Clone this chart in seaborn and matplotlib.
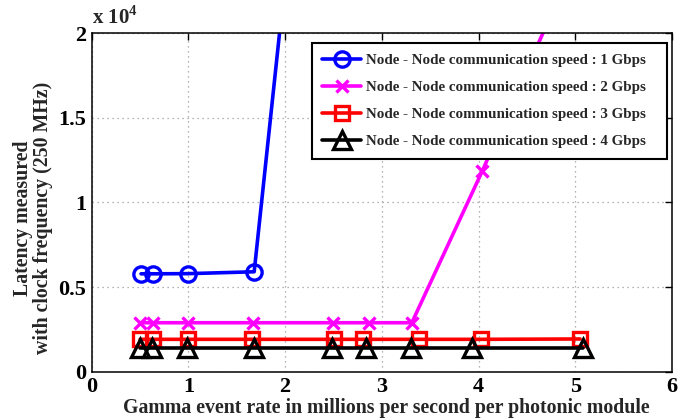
import matplotlib
matplotlib.use("Agg")
import matplotlib.pyplot as plt
from matplotlib.ticker import FuncFormatter
import seaborn as sns
import pandas as pd

# Gamma event rate (millions / s / photonic module) and latency (clock cycles @ 250 MHz)
rate_1g = [0.51, 0.63, 1.0, 1.68, 2.5]
lat_1g = [5780, 5780, 5790, 5900, 50000]

rate_2g = [0.50, 0.63, 1.0, 1.67, 2.50, 2.87, 3.31, 4.04, 5.05]
lat_2g = [2890, 2890, 2890, 2890, 2890, 2890, 2890, 11870, 25000]

rate_3g = [0.50, 0.63, 1.0, 1.66, 2.51, 2.80, 3.38, 4.02, 5.05]
lat_3g = [1910, 1910, 1910, 1910, 1910, 1910, 1910, 1910, 1930]

rate_4g = [0.50, 0.62, 0.99, 1.68, 2.48, 2.84, 3.30, 3.93, 5.08]
lat_4g = [1420, 1420, 1420, 1420, 1420, 1420, 1420, 1420, 1420]

labels = [
    "Node - Node communication speed : 1 Gbps",
    "Node - Node communication speed : 2 Gbps",
    "Node - Node communication speed : 3 Gbps",
    "Node - Node communication speed : 4 Gbps",
]
colors = ["#0000ff", "#ff00ff", "#ff0000", "#000000"]
markers = ["o", "x", "s", "^"]
marker_sizes = [11, 9, 10, 13]

x_ticks = [0, 1, 2, 3, 4, 5, 6]
y_ticks = [0, 5000, 10000, 15000, 20000]

sns.set_style("white")
plt.rcParams["font.family"] = ["Liberation Serif", "DejaVu Serif"]
plt.rcParams["font.weight"] = "bold"
plt.rcParams["mathtext.fontset"] = "custom"
plt.rcParams["mathtext.rm"] = "Liberation Serif:bold"

fig = plt.figure(figsize=(7.0, 4.19), dpi=100)
ax = fig.add_axes([0.131, 0.113, 0.829, 0.808])

series = [(rate_1g, lat_1g), (rate_2g, lat_2g), (rate_3g, lat_3g), (rate_4g, lat_4g)]
for (xs, ys), lab, col, mk, ms in zip(series, labels, colors, markers, marker_sizes):
    df = pd.DataFrame({"rate": xs, "latency": ys})
    sns.lineplot(
        data=df, x="rate", y="latency", ax=ax, color=col, label=lab,
        marker=mk, markersize=ms, markerfacecolor="none", markeredgecolor=col,
        markeredgewidth=2.4, linewidth=2.6, sort=False, estimator=None,
    )

ax.set_xlim(0, 6)
ax.set_ylim(0, 20000)
ax.set_xticks(x_ticks)
ax.set_yticks(y_ticks)
ax.yaxis.set_major_formatter(FuncFormatter(lambda v, p: f"{v / 1e4:g}"))

ax.grid(True, color="#9a9a9a", linestyle=(0, (1, 3)), linewidth=0.9)
ax.tick_params(direction="in", length=5, width=1, top=True, right=True,
               labelsize=16, pad=4, colors="black")
for s in ax.spines.values():
    s.set_visible(True)
    s.set_color("black")
    s.set_linewidth(1.1)

ax.set_xlabel("Gamma event rate in millions per second per photonic module",
              fontsize=14.3, fontweight="bold", labelpad=1)
ax.set_ylabel("Latency measured\nwith clock frequency (250 MHz)",
              fontsize=14.3, fontweight="bold", linespacing=1.0)
ax.xaxis.set_label_coords(0.508, -0.078, transform=ax.transAxes)
ax.xaxis.label.set_va("top")
ax.yaxis.set_label_coords(-0.067, 0.454, transform=ax.transAxes)

ax.text(0.0, 1.012, r"x 10$^{4}$", transform=ax.transAxes, fontsize=15,
        fontweight="bold", ha="left", va="bottom")

leg = ax.legend(loc="upper left", bbox_to_anchor=(0.379, 0.0, 0.612, 0.9696),
                mode="expand", borderaxespad=0,
                fontsize=10.85, handlelength=2.6, handletextpad=0.3,
                labelspacing=0.89, borderpad=0.7, fancybox=False, framealpha=1)
leg.get_frame().set_edgecolor("black")
leg.get_frame().set_linewidth(1.5)
for t in leg.get_texts():
    t.set_fontweight("bold")

fig.savefig("out.png", dpi=100)
